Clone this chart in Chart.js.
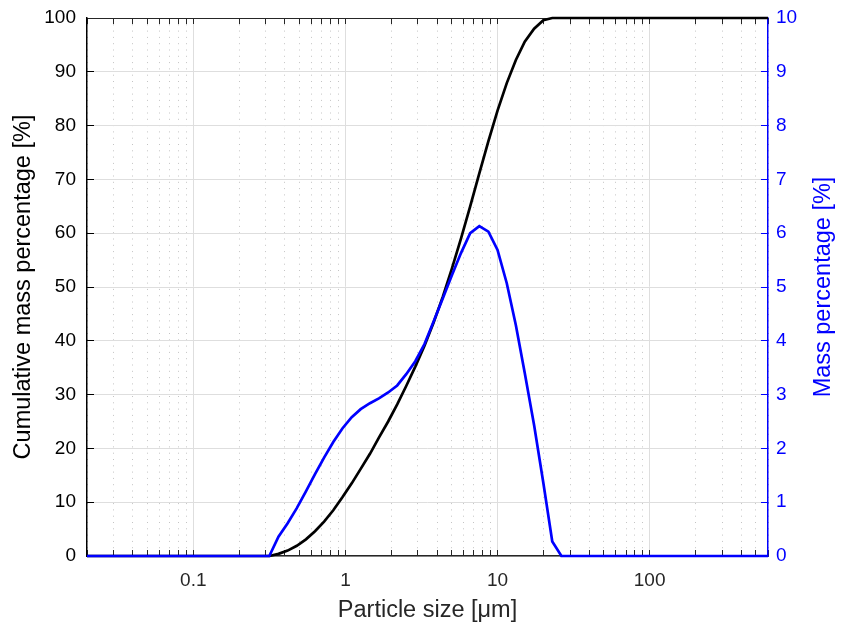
<!DOCTYPE html>
<html>
<head>
<meta charset="utf-8">
<script src="https://cdn.jsdelivr.net/npm/chart.js@4.4.1/dist/chart.umd.min.js"></script>
<style>
  html, body { margin: 0; padding: 0; background: #ffffff; }
  #wrap { width: 841px; height: 628px; position: relative; }
</style>
</head>
<body>
<div id="wrap"><canvas id="psd_chart"></canvas></div>
<script>
// particle size bins [um]
var particleSize = [0.02, 0.275, 0.316, 0.363, 0.417, 0.479, 0.550, 0.631, 0.724, 0.832, 0.955,
    1.10, 1.26, 1.45, 1.66, 1.91, 2.19, 2.51, 2.88, 3.31, 3.80, 4.37, 5.01, 5.75, 6.61, 7.59, 8.71,
    10.0, 11.5, 13.2, 15.1, 17.4, 20.0, 22.9, 26.3, 30.2, 600];
// cumulative mass percentage [%] (left axis)
var cumulativeMass = [0, 0, 0, 0.4, 1.0, 1.9, 3.1, 4.6, 6.4, 8.5, 10.9,
    13.5, 16.2, 19.0, 22.0, 25.0, 28.2, 31.6, 35.2, 39.1, 43.4, 48.2, 53.4, 59.0, 65.0, 71.1, 77.1,
    82.8, 87.9, 92.2, 95.6, 98.0, 99.6, 100, 100, 100, 100];
// mass percentage per bin [%] (right axis)
var massPercent = [0, 0, 0, 0.36, 0.61, 0.89, 1.20, 1.52, 1.83, 2.12, 2.37,
    2.58, 2.73, 2.84, 2.93, 3.04, 3.17, 3.38, 3.62, 3.94, 4.36, 4.79, 5.22, 5.63, 6.00, 6.13, 6.03,
    5.69, 5.07, 4.29, 3.40, 2.43, 1.36, 0.27, 0, 0, 0];

var xMajorTicks = [0.1, 1, 10, 100];
var xTickLabels = ['0.1', '1', '10', '100'];
var xDecades = [0.01, 0.1, 1, 10, 100];
var xMin = 0.02, xMax = 600;

var FONT = "'Liberation Sans', Arial, Helvetica, sans-serif";

// 1..9 ticks in every decade, kept inside the axis range
var xTicks = [];
xDecades.forEach(function(d) {
    for (var m = 1; m <= 9; m++) {
        var v = d * m;
        if (v >= xMin * 0.999 && v <= xMax * 1.001) xTicks.push(v);
    }
});

function majorIndex(v) {
    for (var i = 0; i < xMajorTicks.length; i++) {
        if (Math.abs(v - xMajorTicks[i]) / xMajorTicks[i] < 1e-6) return i;
    }
    return -1;
}

function toPoints(ys) {
    return particleSize.map(function(x, i) { return {x: x, y: ys[i]}; });
}

function setXTicks(scale) {
    scale.ticks = xTicks.map(function(v) { return {value: v, major: majorIndex(v) >= 0}; });
}

// fixed axis sizes; drop the label overflow padding so the plot box keeps its place
function fixWidth(w) {
    return function(scale) {
        scale.width = w;
        scale.paddingTop = 0;
        scale.paddingBottom = 0;
    };
}

// right axis title reads bottom-to-top like the left one
var rightTitle = {
    id: 'rightTitle',
    afterDraw: function(chart) {
        var ctx = chart.ctx, area = chart.chartArea;
        ctx.save();
        ctx.translate(824, (area.top + area.bottom) / 2);
        ctx.rotate(-Math.PI / 2);
        ctx.font = "23.5px " + FONT;
        ctx.fillStyle = '#0000ff';
        ctx.textAlign = 'center';
        ctx.textBaseline = 'middle';
        ctx.fillText('Mass percentage [%]', 0, 0);
        ctx.restore();
    }
};

var psdChart = new Chart(document.getElementById('psd_chart').getContext('2d'), {
    type: 'line',
    data: {
        datasets: [{
            label: 'Cumulative',
            data: toPoints(cumulativeMass),
            borderColor: '#000000',
            borderWidth: 2.7,
            pointRadius: 0,
            tension: 0,
            yAxisID: 'y',
            xAxisID: 'x',
            clip: 4,
            order: 2
        }, {
            label: 'Mass percentage',
            data: toPoints(massPercent),
            borderColor: '#0000ff',
            borderWidth: 2.7,
            pointRadius: 0,
            tension: 0,
            yAxisID: 'y2',
            xAxisID: 'x',
            clip: 4,
            order: 1
        }]
    },
    options: {
        responsive: true,
        maintainAspectRatio: false,
        animation: false,
        layout: { padding: 0 },
        plugins: {
            legend: { display: false },
            tooltip: { enabled: false },
            title: { display: false }
        },
        scales: {
            x: {
                type: 'logarithmic',
                position: 'bottom',
                min: xMin,
                max: xMax,
                afterBuildTicks: setXTicks,
                afterFit: function(scale) { scale.height = 72; },
                ticks: {
                    autoSkip: false,
                    maxRotation: 0,
                    padding: 19,
                    color: '#262626',
                    font: { family: FONT, size: 19 },
                    callback: function(value) {
                        var k = majorIndex(value);
                        return k >= 0 ? xTickLabels[k] : '';
                    }
                },
                grid: {
                    color: function(ctx) {
                        if (!ctx.tick) return '#dedede';
                        return majorIndex(ctx.tick.value) >= 0 ? '#dedede' : '#c4c4c4';
                    },
                    lineWidth: 1,
                    drawTicks: true,
                    tickLength: -6,
                    tickColor: '#262626',
                    tickWidth: 1
                },
                border: {
                    color: '#262626',
                    width: 1.5,
                    dash: function(ctx) {
                        if (ctx.tick && majorIndex(ctx.tick.value) < 0) return [1, 5.3];
                        return [];
                    }
                },
                title: {
                    display: true,
                    text: 'Particle size [μm]',
                    color: '#262626',
                    font: { family: FONT, size: 23.5 },
                    padding: { top: 0, bottom: 3 }
                }
            },
            x2: {
                type: 'logarithmic',
                position: 'top',
                min: xMin,
                max: xMax,
                afterBuildTicks: setXTicks,
                afterFit: function(scale) { scale.height = 18; },
                ticks: { display: false, autoSkip: false },
                grid: {
                    drawOnChartArea: false,
                    drawTicks: true,
                    tickLength: -6,
                    tickColor: '#262626',
                    tickWidth: 1
                },
                border: { color: '#262626', width: 1 }
            },
            y: {
                type: 'linear',
                position: 'left',
                min: 0,
                max: 100,
                afterFit: fixWidth(87),
                ticks: {
                    stepSize: 10,
                    padding: 18,
                    color: '#000000',
                    font: { family: FONT, size: 19 }
                },
                grid: {
                    color: '#dedede',
                    lineWidth: 1,
                    drawTicks: true,
                    tickLength: -7,
                    tickColor: '#000000',
                    tickWidth: 1
                },
                border: { color: '#000000', width: 1.5 },
                title: {
                    display: true,
                    text: 'Cumulative mass percentage [%]',
                    color: '#000000',
                    font: { family: FONT, size: 23.5 },
                    padding: { top: 9, bottom: 0 }
                }
            },
            y2: {
                type: 'linear',
                position: 'right',
                min: 0,
                max: 10,
                afterFit: fixWidth(73),
                ticks: {
                    stepSize: 1,
                    padding: 15,
                    color: '#0000ff',
                    font: { family: FONT, size: 19 }
                },
                grid: {
                    drawOnChartArea: false,
                    drawTicks: true,
                    tickLength: -7,
                    tickColor: '#0000ff',
                    tickWidth: 1
                },
                border: { color: '#0000ff', width: 1.5 }
            }
        }
    },
    plugins: [rightTitle]
});
</script>
</body>
</html>
